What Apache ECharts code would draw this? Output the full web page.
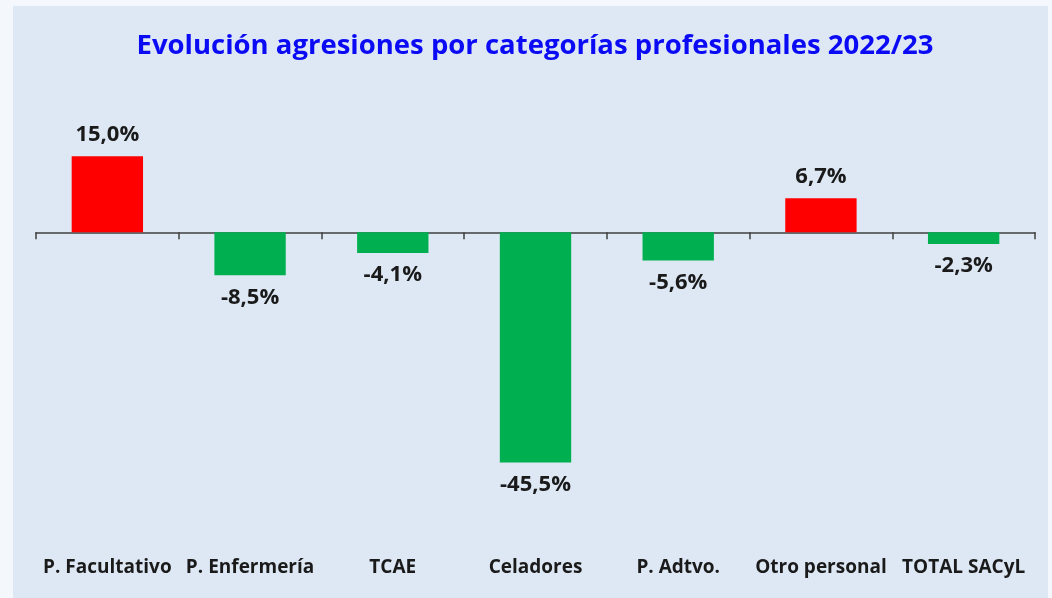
<!DOCTYPE html>
<html>
<head>
<meta charset="utf-8">
<script src="https://cdn.jsdelivr.net/npm/echarts@6/dist/echarts.min.js"></script>
<style>
html, body { margin: 0; padding: 0; background: #f4f8fc; }
#chart { width: 1052px; height: 598px; }
</style>
</head>
<body>
<div id="chart"></div>
<script>
// datos
var categorias = ['P. Facultativo', 'P. Enfermería', 'TCAE', 'Celadores', 'P. Adtvo.', 'Otro personal', 'TOTAL SACyL'];
var variacion = [15.0, -8.5, -4.1, -45.5, -5.6, 6.7, -2.3];

var myChart = echarts.init(document.getElementById('chart'));

var barras = variacion.map(function (v) {
	return {
		value: v,
		itemStyle: { color: v >= 0 ? '#ff0000' : '#00b050' },
		label: { position: v >= 0 ? 'top' : 'bottom' }
	};
});

var option = {
	backgroundColor: '#f4f8fc',
	animation: false,
	graphic: [{
		type: 'rect',
		shape: { x: 13, y: 6, width: 1035, height: 600 },
		style: { fill: '#dde8f4' },
		z: -10
	}],
	title: {
		text: 'Evolución agresiones por categorías profesionales 2022/23',
		left: 530,
		textAlign: 'center',
		top: 27,
		textStyle: {
			color: '#0a0af5',
			fontSize: 27.5,
			fontWeight: 'bold',
			fontFamily: 'Open Sans'
		}
	},
	grid: {
		left: 36,
		right: 17,
		top: 131,
		bottom: 62
	},
	xAxis: [
		{
			type: 'category',
			data: categorias,
			axisLine: { onZero: true, lineStyle: { color: '#404040', width: 1.5 } },
			axisTick: { show: true, length: 7, lineStyle: { color: '#404040', width: 1.5 } },
			axisLabel: { show: false },
			splitLine: { show: false }
		},
		{
			type: 'category',
			position: 'bottom',
			data: categorias,
			axisLine: { show: false, onZero: false },
			axisTick: { show: false },
			axisLabel: {
				show: true,
				margin: 22,
				color: '#1a1a1a',
				fontSize: 19,
				fontWeight: 'bold',
				fontFamily: 'Open Sans',
				interval: 0
			}
		}
	],
	yAxis: {
		type: 'value',
		min: -60,
		max: 20,
		show: false,
		splitLine: { show: false }
	},
	series: [
		{
			type: 'bar',
			xAxisIndex: 0,
			barWidth: '50%',
			data: barras,
			label: {
				show: true,
				distance: 11,
				color: '#1a1a1a',
				fontSize: 22,
				fontWeight: 'bold',
				fontFamily: 'Open Sans',
				formatter: function (p) {
					return p.value.toFixed(1).replace('.', ',') + '%';
				}
			}
		}
	]
};

myChart.setOption(option);
</script>
</body>
</html>
